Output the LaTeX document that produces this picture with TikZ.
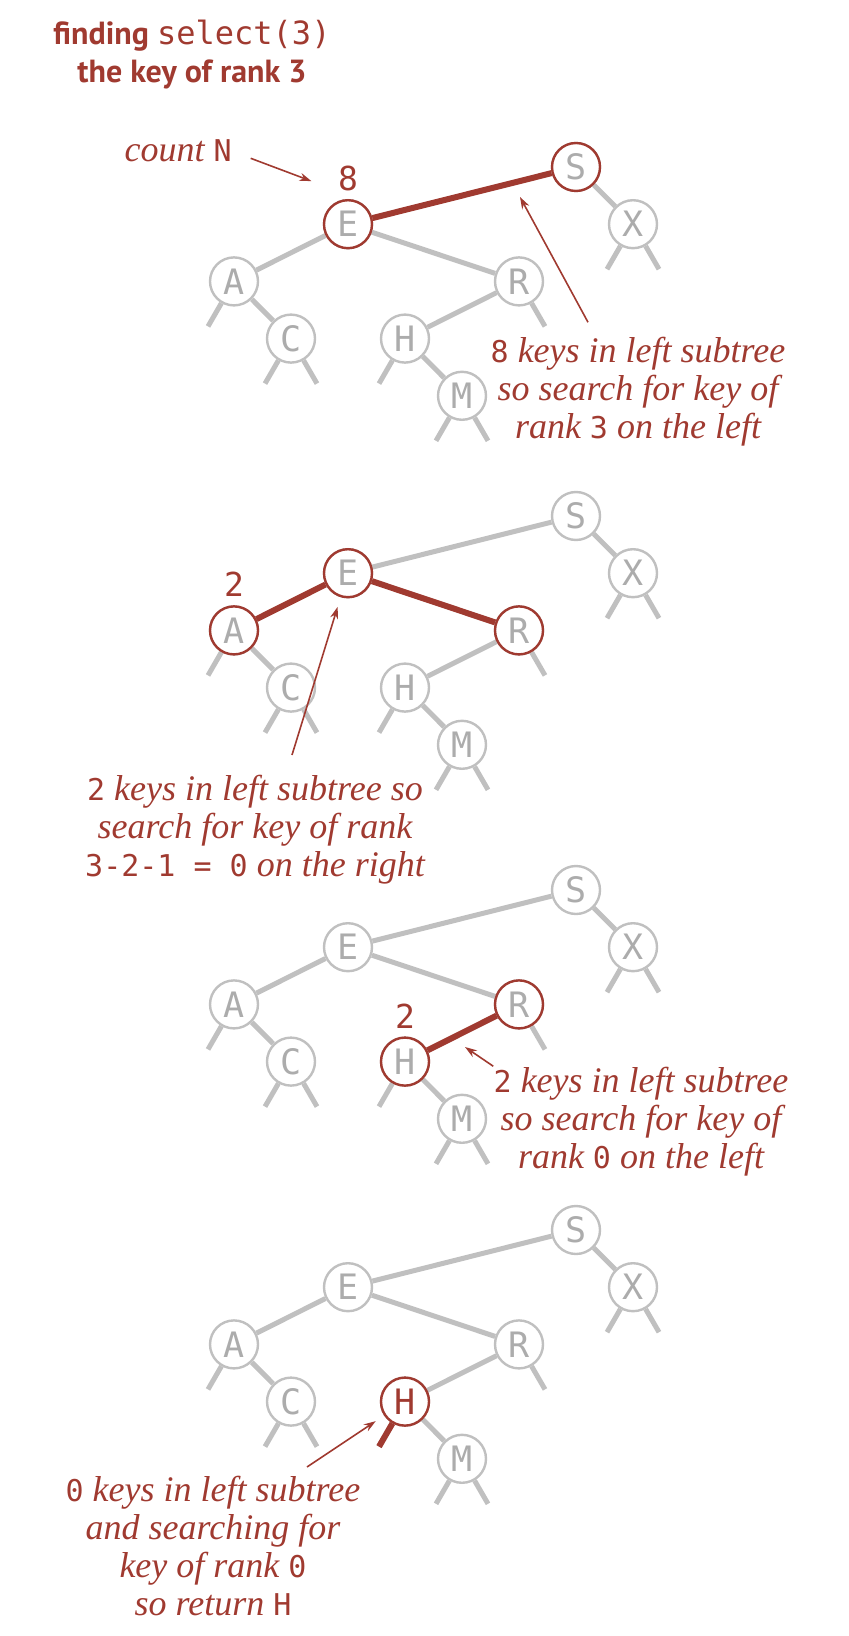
\documentclass[tikz,border=0pt]{standalone}
\usepackage{fontspec}
\setmainfont{Liberation Serif}
\setsansfont{PT Sans}
\newfontfamily\codefont{DejaVu Sans Mono}
\usetikzlibrary{positioning, calc, arrows.meta}

\definecolor{bookred}{RGB}{160,58,48}
\definecolor{linkgray}{RGB}{192,192,192}
\definecolor{keytext}{RGB}{172,172,172}

\newcommand{\keycode}[1]{{\codefont\upshape\fontsize{15}{19}\selectfont #1}}

\begin{document}
\begin{tikzpicture}[x=0.5pt, y=-0.5pt,
  key/.style={circle, draw=linkgray, line width=1.2pt, minimum size=24pt, inner sep=0pt,
    fill=white, text=keytext, font=\codefont\fontsize{17.5}{17.5}\selectfont},
  redkey/.style={key, draw=bookred},
  link/.style={linkgray, line width=2.5pt},
  redlink/.style={bookred, line width=3pt},
  size/.style={text=bookred, inner sep=0pt, font=\codefont\fontsize{16.5}{16.5}\selectfont},
  note/.style={text=bookred, align=center, inner sep=0pt, font=\fontsize{18}{19}\selectfont\itshape},
  pointer/.style={bookred, line width=0.8pt, -{Stealth[length=6pt, width=4pt]}}]

\useasboundingbox (0,0) rectangle (848,1636);

\node[text=bookred, align=center, anchor=base, font=\sffamily\bfseries\fontsize{16}{19}\selectfont] (title) at (192,83)
  {finding {\codefont\mdseries\fontsize{16}{19}\selectfont select(3)}\\the key of rank 3};

% the same tree four times
\foreach \p/\py in {1/167, 2/516, 3/890, 4/1230} {
  \foreach \k/\x/\lv in {S/576/0, E/348/1, X/633/1, A/234/2, R/519/2, C/291/3, H/405/3, M/462/4}
    \node[key] (\k\p) at (\x, \py+57.2*\lv) {\k};
  \foreach \pa/\ch in {S/E, S/X, E/A, E/R, A/C, R/H, H/M}
    \draw[link] (\pa\p) -- (\ch\p);
  % null links
  \foreach \k/\side/\dx in {A/l/-26, C/l/-26, C/r/26, H/l/-26, M/l/-26, M/r/26, R/r/26, X/l/-26, X/r/26} {
    \coordinate (\k\p\side) at ($(\k\p)+(\dx,45)$);
    \draw[link] (\k\p) -- (\k\p\side);
  }
}

% select(3) at the root
\node[redkey] (E1h) at (E1) {E};
\node[redkey] (S1h) at (S1) {S};
\draw[redlink] (E1h) -- (S1h);
\node[size, above=4pt of E1h] (n1) {8};
\node[note, anchor=base east] (cnt) at (232,162) {count \keycode{N}};
\draw[pointer, shorten <=10pt, shorten >=14pt] (cnt.east) -- (n1.south west);
\node[note, anchor=base] (t1) at (638,438) {\keycode{8} keys in left subtree\\so search for key of\\rank \keycode{3} on the left};
\coordinate (tip1) at (520,197);
\draw[pointer] ([xshift=-25pt, yshift=7pt]t1.north) -- (tip1);

% go left
\node[redkey] (E2h) at (E2) {E};
\node[redkey] (A2h) at (A2) {A};
\node[redkey] (R2h) at (R2) {R};
\draw[redlink] (A2h) -- (E2h) -- (R2h);
\node[size, above=4pt of A2h] (n2) {2};
\node[note, anchor=base] (t2) at (255,876) {\keycode{2} keys in left subtree so\\search for key of rank\\\keycode{3-2-1 = 0} on the right};
\coordinate (from2) at (292,755);
\draw[pointer, shorten >=5pt] (from2) -- (E2h);

% go right
\node[redkey] (R3h) at (R3) {R};
\node[redkey] (H3h) at (H3) {H};
\draw[redlink] (H3h) -- (R3h);
\node[size, above=4pt of H3h] (n3) {2};
\node[note, anchor=base] (t3) at (641,1168) {\keycode{2} keys in left subtree\\so search for key of\\rank \keycode{0} on the left};
\coordinate (tip3) at (465,1047);
\draw[pointer] (t3.north west) -- (tip3);

% found
\node[redkey, text=bookred] (H4h) at (H4) {H};
\draw[redlink] (H4h) -- (H4l);
\node[note, anchor=base] (t4) at (213,1615) {\keycode{0} keys in left subtree\\and searching for\\key of rank \keycode{0}\\so return \keycode{H}};
\coordinate (from4) at (307,1467);
\draw[pointer, shorten >=5pt] (from4) -- (H4h);
\end{tikzpicture}
\end{document}
